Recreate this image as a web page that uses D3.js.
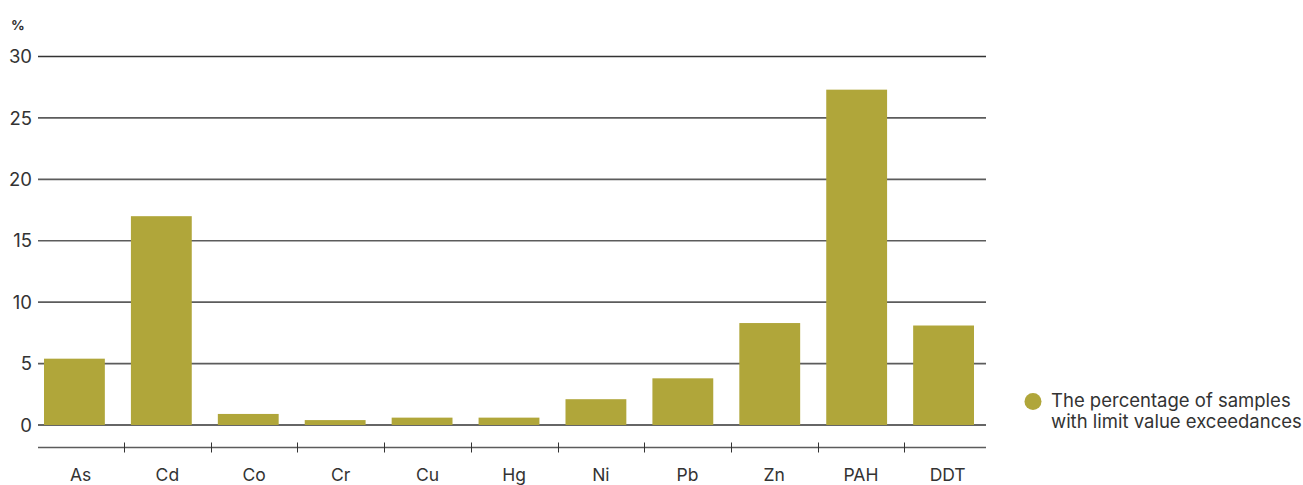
<!DOCTYPE html>
<html>
<head>
<meta charset="utf-8">
<script src="https://cdn.jsdelivr.net/npm/d3@7"></script>
<style>
  html, body { margin: 0; padding: 0; background: #fff; }
  svg { display: block; font-family: Inter, Roboto, "Noto Sans", sans-serif; }
</style>
</head>
<body>
<svg id="chart" width="1303" height="485"></svg>
<script>
// Pollutants and share of samples exceeding limit values (%)
const categories = ["As", "Cd", "Co", "Cr", "Cu", "Hg", "Ni", "Pb", "Zn", "PAH", "DDT"];
const values = [5.4, 17.0, 0.9, 0.4, 0.6, 0.6, 2.1, 3.8, 8.3, 27.3, 8.1];
const yTicks = [0, 5, 10, 15, 20, 25, 30];
const unitLabel = "%";
const legendLines = ["The percentage of samples", "with limit value exceedances"];

const barColor = "#b0a63a";
const textColor = "#333";

const svg = d3.select("#chart");

const y = d3.scaleLinear().domain([0, 30]).range([425, 56.5]);
const xAxisScale = d3.scaleBand().domain(categories).range([37.3, 991]).padding(0);
const xBars = d3.scaleBand().domain(categories).range([44, 974]).paddingInner(0.3).paddingOuter(0);

// horizontal grid
const grid = svg.append("g");
grid.selectAll("line")
  .data(yTicks)
  .join("line")
  .attr("x1", 38).attr("x2", 986)
  .attr("y1", d => y(d)).attr("y2", d => y(d))
  .attr("stroke", d => (d === 0 || d === 30) ? "#333" : "#5c5c5c")
  .attr("stroke-width", 1.6);

// y tick labels
svg.append("g").selectAll("text")
  .data(yTicks)
  .join("text")
  .attr("x", 32).attr("y", d => y(d))
  .attr("dy", "0.36em")
  .attr("text-anchor", "end")
  .attr("fill", textColor)
  .attr("font-size", 18.5)
  .text(d => d);

svg.append("text")
  .attr("x", 11).attr("y", 30)
  .attr("fill", textColor)
  .attr("font-size", 13.5)
  .attr("font-weight", "bold")
  .text(unitLabel);

// bars
svg.append("g").selectAll("rect")
  .data(categories.map((c, i) => ({ c, v: values[i] })))
  .join("rect")
  .attr("x", d => xBars(d.c))
  .attr("width", xBars.bandwidth())
  .attr("y", d => y(d.v))
  .attr("height", d => y(0) - y(d.v))
  .attr("fill", barColor);

// category axis with separators between bands
const xAxisG = svg.append("g").attr("transform", "translate(0,447.5)");
xAxisG.append("line")
  .attr("x1", 38).attr("x2", 986)
  .attr("stroke", "#5c5c5c").attr("stroke-width", 1.6);
xAxisG.selectAll("line.sep")
  .data(categories.slice(1))
  .join("line")
  .attr("class", "sep")
  .attr("x1", d => Math.round(xAxisScale(d)) + 0.5)
  .attr("x2", d => Math.round(xAxisScale(d)) + 0.5)
  .attr("y1", -5).attr("y2", 5)
  .attr("stroke", "#333").attr("stroke-width", 1);
xAxisG.selectAll("text")
  .data(categories)
  .join("text")
  .attr("x", d => xAxisScale(d) + xAxisScale.bandwidth() / 2)
  .attr("y", 33)
  .attr("text-anchor", "middle")
  .attr("fill", textColor)
  .attr("font-size", 17.5)
  .text(d => d);

// legend
const legend = svg.append("g");
legend.append("circle")
  .attr("cx", 1033).attr("cy", 401.5).attr("r", 8.5)
  .attr("fill", barColor);
legend.selectAll("text")
  .data(legendLines)
  .join("text")
  .attr("x", 1051)
  .attr("y", (d, i) => 406.5 + i * 21)
  .attr("fill", textColor)
  .attr("font-size", 18.5)
  .text(d => d);
</script>
</body>
</html>
